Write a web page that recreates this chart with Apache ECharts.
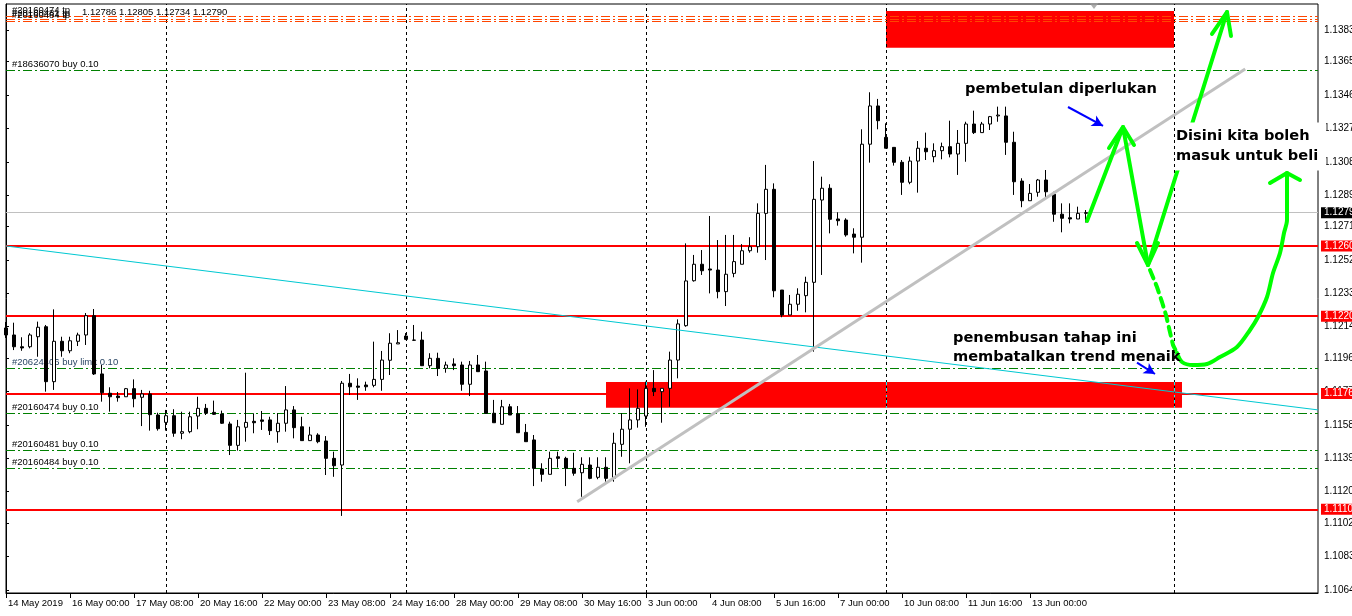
<!DOCTYPE html>
<html><head><meta charset="utf-8">
<script src="https://cdn.jsdelivr.net/npm/echarts@6/dist/echarts.min.js"></script>
<style>html,body{margin:0;padding:0;background:#fff;}#c{width:1352px;height:616px;}</style>
</head><body><div id="c"></div><script>
// ---------- DATA ----------
const xTickLabels = ['14 May 2019','16 May 00:00','17 May 08:00','20 May 16:00','22 May 00:00','23 May 08:00','24 May 16:00','28 May 00:00','29 May 08:00','30 May 16:00','3 Jun 00:00','4 Jun 08:00','5 Jun 16:00','7 Jun 00:00','10 Jun 08:00','11 Jun 16:00','13 Jun 00:00'];
const barsPerLabel = 8;
const slotCount = 165; // bars + empty shift area on the right
const yTickLabels = ['1.1064','1.1083','1.1102','1.1120','1.1139','1.1158','1.1177','1.1196','1.1214','1.1233','1.1252','1.1271','1.1289','1.1308','1.1327','1.1346','1.1365','1.1383'];
const yMin = 1.106228, yMax = 1.139789;

const opens = [1.12133,1.12093,1.12026,1.12026,1.12083,1.12140,1.11827,1.12057,1.12003,1.12057,1.12093,1.12203,1.11871,1.11761,1.11745,1.11741,1.11787,1.11738,1.11757,1.11637,
1.11595,1.11633,1.11533,1.11542,1.11631,1.11675,1.11652,1.11643,1.11586,1.11464,1.11567,1.11601,1.11609,1.11609,1.11542,1.11590,1.11666,1.11570,1.11491,1.11523,
1.11489,1.11390,1.11352,1.11818,1.11802,1.11808,1.11806,1.11840,1.11949,1.12042,1.12087,1.12064,1.12064,1.11918,1.11960,1.11903,1.11928,1.11922,1.11812,1.11922,
1.11888,1.11647,1.11584,1.11684,1.11643,1.11538,1.11495,1.11329,1.11299,1.11399,1.11390,1.11333,1.11308,1.11352,1.11282,1.11339,1.11276,1.11470,1.11556,1.11609,
1.11631,1.11789,1.11770,1.11789,1.11950,1.12146,1.12402,1.12496,1.12469,1.12463,1.12340,1.12444,1.12496,1.12573,1.12596,1.12786,1.12923,1.12349,1.12207,1.12268,
1.12317,1.12393,1.12862,1.12929,1.12754,1.12748,1.12668,1.12650,1.13180,1.13398,1.13219,1.13162,1.13077,1.12963,1.13084,1.13157,1.13109,1.13143,1.13166,1.13124,
1.13185,1.13295,1.13246,1.13295,1.13341,1.13341,1.13191,1.12970,1.12858,1.12906,1.12976,1.12895,1.12781,1.12761,1.12754,1.12786];
const closes = [1.12093,1.12026,1.12019,1.12093,1.12137,1.11827,1.12057,1.12003,1.12060,1.12093,1.12203,1.11871,1.11764,1.11741,1.11736,1.11787,1.11730,1.11757,1.11639,1.11559,
1.11633,1.11533,1.11542,1.11627,1.11675,1.11647,1.11641,1.11590,1.11464,1.11570,1.11595,1.11593,1.11601,1.11548,1.11590,1.11666,1.11565,1.11491,1.11523,1.11485,
1.11390,1.11348,1.11818,1.11798,1.11795,1.11798,1.11840,1.11950,1.12046,1.12049,1.12068,1.12063,1.11918,1.11960,1.11903,1.11922,1.11918,1.11812,1.11922,1.11884,
1.11647,1.11593,1.11684,1.11637,1.11536,1.11485,1.11333,1.11299,1.11390,1.11390,1.11333,1.11305,1.11356,1.11276,1.11339,1.11276,1.11476,1.11556,1.11609,1.11675,
1.11789,1.11770,1.11789,1.11950,1.12156,1.12401,1.12496,1.12459,1.12463,1.12340,1.12439,1.12511,1.12573,1.12596,1.12786,1.12923,1.12345,1.12207,1.12268,1.12325,
1.12393,1.12866,1.12929,1.12752,1.12744,1.12663,1.12650,1.13180,1.13398,1.13314,1.13157,1.13077,1.12963,1.13084,1.13157,1.13137,1.13143,1.13166,1.13124,1.13185,
1.13295,1.13246,1.13295,1.13337,1.13346,1.13191,1.12966,1.12858,1.12900,1.12976,1.12909,1.12781,1.12758,1.12754,1.12786,1.12790];
const lows = [1.12076,1.12007,1.12003,1.12017,1.11969,1.11770,1.11780,1.11969,1.11989,1.12030,1.12036,1.11865,1.11713,1.11656,1.11713,1.11740,1.11681,1.11574,1.11548,1.11548,
1.11548,1.11513,1.11499,1.11533,1.11556,1.11637,1.11637,1.11586,1.11409,1.11434,1.11485,1.11533,1.11552,1.11523,1.11479,1.11542,1.11504,1.11491,1.11489,1.11476,
1.11295,1.11285,1.11062,1.11751,1.11723,1.11775,1.11795,1.11775,1.11865,1.12042,1.12064,1.12060,1.11916,1.11903,1.11859,1.11878,1.11893,1.11775,1.11745,1.11884,
1.11647,1.11593,1.11584,1.11637,1.11536,1.11485,1.11232,1.11257,1.11299,1.11337,1.11232,1.11291,1.11171,1.11271,1.11271,1.11257,1.11257,1.11399,1.11362,1.11565,
1.11570,1.11745,1.11593,1.11684,1.11846,1.12140,1.12397,1.12435,1.12330,1.12302,1.12258,1.12422,1.12496,1.12562,1.12562,1.12520,1.12308,1.12194,1.12207,1.12231,
1.12222,1.11998,1.12435,1.12672,1.12716,1.12653,1.12558,1.12505,1.13075,1.13265,1.13157,1.13058,1.12891,1.12952,1.12904,1.13090,1.13077,1.13094,1.13105,1.13005,
1.13080,1.13238,1.13246,1.13261,1.13308,1.13119,1.12891,1.12821,1.12858,1.12881,1.12877,1.12738,1.12678,1.12729,1.12754,1.12734];
const highs = [1.12167,1.12163,1.12080,1.12103,1.12169,1.12150,1.12239,1.12083,1.12083,1.12106,1.12218,1.12241,1.11922,1.11795,1.11768,1.11791,1.11840,1.11780,1.11775,1.11650,
1.11666,1.11670,1.11656,1.11656,1.11741,1.11700,1.11719,1.11662,1.11599,1.11609,1.11878,1.11647,1.11660,1.11627,1.11648,1.11802,1.11688,1.11627,1.11570,1.11533,
1.11517,1.11428,1.11831,1.11871,1.11846,1.11827,1.12055,1.12002,1.12103,1.12121,1.12104,1.12150,1.12112,1.11989,1.11992,1.11941,1.11960,1.11941,1.11945,1.11979,
1.11941,1.11723,1.11723,1.11700,1.11688,1.11586,1.11523,1.11362,1.11428,1.11428,1.11399,1.11422,1.11396,1.11396,1.11396,1.11396,1.11536,1.11647,1.11789,1.11783,
1.11827,1.11893,1.11789,1.11998,1.12182,1.12615,1.12549,1.12577,1.12771,1.12634,1.12663,1.12663,1.12611,1.12650,1.12843,1.13062,1.12957,1.12349,1.12321,1.12359,
1.12425,1.13084,1.12995,1.12952,1.12792,1.12758,1.12701,1.13265,1.13476,1.13438,1.13299,1.13162,1.13090,1.13109,1.13198,1.13246,1.13185,1.13189,1.13314,1.13261,
1.13308,1.13371,1.13307,1.13341,1.13394,1.13394,1.13251,1.12986,1.12953,1.12982,1.13033,1.12909,1.12843,1.12843,1.12824,1.12805];

const headerText = '1.12786 1.12805 1.12734 1.12790';
const levelPrices = [1.1260, 1.1220, 1.1176, 1.1110];
const bidPrice = 1.1279;
const orderPrices = [1.13603, 1.11903, 1.11647, 1.11436, 1.11333];
const orderTexts = ['#18636070 buy 0.10', '#20624406 buy limit 0.10', '#20160474 buy 0.10', '#20160481 buy 0.10', '#20160484 buy 0.10'];
const tpPrices = [1.13907, 1.13893, 1.13880];
const tpTexts = ['#20160474 tp', '#20160481 tp', '#20160484 tp'];
const gridBars = [20, 50, 80, 110, 146];
const zoneTop = [[110, 1.13939], [146, 1.13730]];
const zoneLow = [[75, 1.11825], [147, 1.11679]];
const cyanTrend = [[0, 1.12600], [164, 1.11666]];
const grayTrend = [[71.4, 1.11143], [154.9, 1.13609]];
const greenUp = [[135.125, 1.127425], [139.625, 1.132781], [142.75, 1.124917]];
const greenUpHead = [[137.875, 1.131584], [139.625, 1.132781], [141.0, 1.131755]];
const greenDownHead = [[141.375, 1.126171], [142.75, 1.124917], [144.0, 1.12617]];
const greenLong = [[142.75, 1.124917], [152.625, 1.139333]];
const greenLongHead = [[150.75, 1.13808], [152.625, 1.139333], [153.125, 1.137966]];
const greenDashed = [[143, 1.124632], [143.875, 1.123664], [144.5, 1.122809], [145, 1.122068], [145.375, 1.121328], [145.875, 1.120359], [146.375, 1.119903]];
const greenCurve = [[146.375, 1.119903], [147, 1.11939], [148.375, 1.119219], [150.125, 1.119276], [151.75, 1.119675], [153.875, 1.120245], [155.5, 1.121214], [156.5, 1.121954], [157.625, 1.123094], [158.375, 1.124462], [159.25, 1.125601], [159.75, 1.126741], [160.125, 1.127481], [160.125, 1.13016]];
const greenCurveHead = [[158, 1.12959], [160.125, 1.13016], [161.75, 1.129761]];
const blueArrows = [[[132.75, 1.13392], [137.125, 1.132838]], [[141.375, 1.11935], [143.625, 1.118707]]];
const noteTexts = ['pembetulan diperlukan', 'Disini kita boleh\nmasuk untuk beli', 'penembusan tahap ini\nmembatalkan trend menaik'];
const notePositions = [[119.875, 1.134946], [146.125, 1.131669], [118.375, 1.120217]];
const shiftMarker = [136, 1.139675];

// ---------- BUILD ----------
const AXF = 'Liberation Sans';
const NOTEF = 'DejaVu Sans';
const categories = [];
for (let i = 0; i < slotCount; i++) {
  const k = i / barsPerLabel;
  categories.push(i % barsPerLabel === 0 && k < xTickLabels.length ? xTickLabels[k] : '');
}
const candleData = opens.map((o, i) => [o, closes[i], lows[i], highs[i]]);
const yTickValues = yTickLabels.map(parseFloat);
const dashDot = [9, 3, 2, 3];

function poly(name, data, style, z) {
  return { name, type: 'line', xAxisIndex: 1, yAxisIndex: 0, data, symbol: 'none', silent: true, z,
    animation: false, lineStyle: style };
}
function markSeries(name, z, extra) {
  return Object.assign({ name, type: 'line', xAxisIndex: 1, yAxisIndex: 0, data: [], z, silent: true, animation: false }, extra);
}
const greenStyle = { color: '#00ff00', width: 4, cap: 'round', join: 'round' };

const option = {
  animation: false,
  backgroundColor: '#fff',
  title: { text: headerText, left: 82, top: 7, padding: 0, textStyle: { fontFamily: AXF, fontSize: 9.5, fontWeight: 'normal', color: '#000' } },
  grid: { left: 6, right: 34, top: 4, bottom: 23, show: true, borderColor: '#000', borderWidth: 1, backgroundColor: '#fff',
    containLabel: false, outerBoundsMode: 'none' },
  xAxis: [
    { type: 'category', data: categories, boundaryGap: false,
      axisLine: { lineStyle: { color: '#000', width: 1 } },
      axisTick: { show: true, interval: (i, v) => v !== '', length: 5, lineStyle: { color: '#000' } },
      axisLabel: { interval: 0, align: 'left', padding: [0, 0, 0, 2], margin: 5, color: '#000', fontFamily: AXF, fontSize: 9.5 },
      splitLine: { show: false } },
    { type: 'value', min: 0, max: slotCount - 1, show: false }
  ],
  yAxis: [{
    type: 'value', position: 'right', min: yMin, max: yMax, scale: true,
    axisLine: { show: true, lineStyle: { color: '#000' } },
    axisTick: { show: true, length: 3, customValues: yTickValues, lineStyle: { color: '#000' } },
    axisLabel: { customValues: yTickValues, formatter: v => v.toFixed(4), margin: 6, color: '#000', fontFamily: AXF, fontSize: 10 },
    splitLine: { show: false }
  }],
  series: [
    markSeries('gridV', 1, {
      markLine: { silent: true, symbol: ['none', 'none'], animation: false, precision: 6, label: { show: false },
        lineStyle: { color: '#000', type: [3, 3], width: 1 },
        data: gridBars.map(b => ({ xAxis: b })) } }),
    markSeries('zones', 2, {
      markArea: { silent: true, animation: false, precision: 6, itemStyle: { color: '#ff0000', opacity: 1 },
        data: [zoneTop, zoneLow].map(zn => [{ coord: zn[0] }, { coord: zn[1] }]) } }),
    markSeries('zoneGrid', 2.5, {
      markLine: { silent: true, symbol: ['none', 'none'], animation: false, precision: 6, label: { show: false },
        lineStyle: { color: '#00ffff', type: [3, 3], width: 1 },
        data: gridBars.filter(b => b > zoneLow[0][0] && b < zoneLow[1][0]).map(b => [{ coord: [b, zoneLow[0][1]] }, { coord: [b, zoneLow[1][1]] }]) } }),
    markSeries('orders', 3, {
      markLine: { silent: true, symbol: ['none', 'none'], animation: false, precision: 6,
        data: orderPrices.map((p, i) => ({ yAxis: p,
          lineStyle: { color: '#008000', type: dashDot, width: 1 },
          label: { show: true, formatter: orderTexts[i], position: 'insideStartTop', distance: [6, 1],
            color: i === 1 ? '#2b4766' : '#000', fontFamily: AXF, fontSize: 9.5 } }))
          .concat(tpPrices.map((p, i) => ({ yAxis: p,
          lineStyle: { color: '#ff4500', type: dashDot, width: 1 },
          label: { show: true, formatter: tpTexts[i], position: 'insideStartTop', distance: [6, 1],
            color: '#000', fontFamily: AXF, fontSize: 9.5 } }))) } }),
    { name: 'price', type: 'candlestick', xAxisIndex: 0, yAxisIndex: 0, data: candleData, z: 5,
      barWidth: 4, silent: true, animation: false,
      itemStyle: { color: '#fff', color0: '#000', borderColor: '#000', borderColor0: '#000', borderWidth: 1 } },
    markSeries('levels', 6, {
      markLine: { silent: true, symbol: ['none', 'none'], animation: false, precision: 6,
        data: levelPrices.map(p => ({ yAxis: p, lineStyle: { color: '#ff0000', type: 'solid', width: 2 },
          label: { show: true, position: 'end', distance: 3, formatter: p.toFixed(4), backgroundColor: '#ff0000',
            color: '#fff', padding: [1, 6, 0, 3], fontFamily: AXF, fontSize: 10 } }))
          .concat([{ yAxis: bidPrice, lineStyle: { color: '#c0c0c0', type: 'solid', width: 1 },
          label: { show: true, position: 'end', distance: 3, formatter: bidPrice.toFixed(4), backgroundColor: '#000',
            color: '#fff', padding: [1, 6, 0, 3], fontFamily: AXF, fontSize: 10 } }]) } }),
    poly('cyan', cyanTrend, { color: '#00c8d2', width: 1 }, 7),
    poly('grayTrend', grayTrend, { color: '#c0c0c0', width: 3 }, 7),
    poly('gUp', greenUp, greenStyle, 8),
    poly('gUpHead', greenUpHead, greenStyle, 8),
    poly('gDownHead', greenDownHead, greenStyle, 8),
    poly('gLong', greenLong, greenStyle, 8),
    poly('gLongHead', greenLongHead, greenStyle, 8),
    poly('gDash', greenDashed, { color: '#00ff00', width: 4, type: [9, 6], cap: 'round' }, 8),
    Object.assign(poly('gCurve', greenCurve, greenStyle, 8), { smooth: 0.3 }),
    poly('gCurveHead', greenCurveHead, greenStyle, 8),
    markSeries('blue', 9, {
      markLine: { silent: true, symbol: ['none', 'arrow'], symbolSize: [9, 11], animation: false, precision: 6, label: { show: false },
        lineStyle: { color: '#0000ff', type: 'solid', width: 2 },
        data: blueArrows.map(a => [{ coord: a[0] }, { coord: a[1] }]) } }),
    { name: 'notes', type: 'scatter', xAxisIndex: 1, yAxisIndex: 0, z: 10, silent: true, symbolSize: 0,
      itemStyle: { color: '#000', opacity: 1 }, animation: false,
      data: notePositions.map((p, i) => ({ value: p,
        label: { show: true, position: 'right', distance: 0, formatter: noteTexts[i], opacity: 1,
          fontFamily: NOTEF, fontWeight: 'bold', fontSize: 14.6, color: '#000',
          lineHeight: i === 1 ? 20 : 19,
          backgroundColor: i === 2 ? 'transparent' : '#fff', padding: i === 1 ? [4, 8, 4, 1] : [0, 0, 0, 0] } })) },
    { name: 'shift', type: 'scatter', xAxisIndex: 1, yAxisIndex: 0, z: 10, silent: true,
      symbol: 'triangle', symbolRotate: 180, symbolSize: [9, 6], itemStyle: { color: '#9a9a9a' },
      data: [shiftMarker] }
  ]
};
const chart = echarts.init(document.getElementById('c'), null, { renderer: 'canvas' });
chart.setOption(option);
</script></body></html>
